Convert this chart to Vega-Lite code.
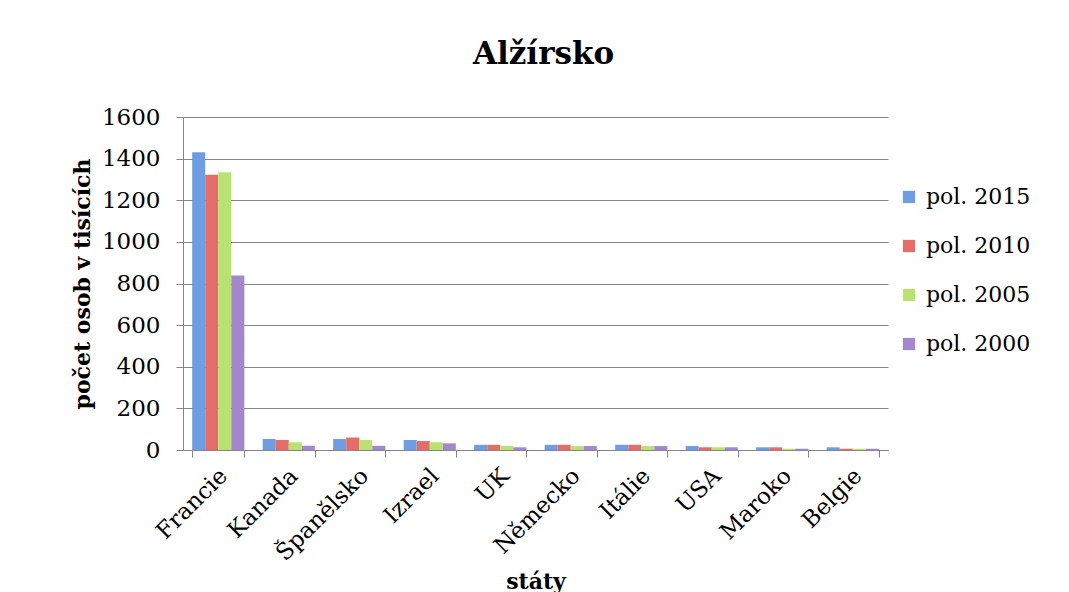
{
  "$schema": "https://vega.github.io/schema/vega-lite/v6.json",
  "width": 705,
  "height": 333,
  "autosize": {"type": "none"},
  "padding": {"left": 183, "top": 117, "right": 181, "bottom": 142},
  "background": "white",
  "title": {
    "text": "Alžírsko",
    "font": "DejaVu Serif",
    "fontSize": 31,
    "fontWeight": "bold",
    "color": "black",
    "anchor": "middle",
    "dx": 8,
    "offset": 35
  },
  "config": {
    "view": {"stroke": null},
    "font": "DejaVu Serif"
  },
  "data": {
    "values": [
      {"stat": "Francie", "rok": "pol. 2015", "pocet": 1431},
      {"stat": "Francie", "rok": "pol. 2010", "pocet": 1322},
      {"stat": "Francie", "rok": "pol. 2005", "pocet": 1335},
      {"stat": "Francie", "rok": "pol. 2000", "pocet": 838},
      {"stat": "Kanada", "rok": "pol. 2015", "pocet": 53},
      {"stat": "Kanada", "rok": "pol. 2010", "pocet": 48},
      {"stat": "Kanada", "rok": "pol. 2005", "pocet": 37},
      {"stat": "Kanada", "rok": "pol. 2000", "pocet": 21},
      {"stat": "Španělsko", "rok": "pol. 2015", "pocet": 53},
      {"stat": "Španělsko", "rok": "pol. 2010", "pocet": 60},
      {"stat": "Španělsko", "rok": "pol. 2005", "pocet": 48},
      {"stat": "Španělsko", "rok": "pol. 2000", "pocet": 20},
      {"stat": "Izrael", "rok": "pol. 2015", "pocet": 48},
      {"stat": "Izrael", "rok": "pol. 2010", "pocet": 43},
      {"stat": "Izrael", "rok": "pol. 2005", "pocet": 37},
      {"stat": "Izrael", "rok": "pol. 2000", "pocet": 32},
      {"stat": "UK", "rok": "pol. 2015", "pocet": 25},
      {"stat": "UK", "rok": "pol. 2010", "pocet": 25},
      {"stat": "UK", "rok": "pol. 2005", "pocet": 20},
      {"stat": "UK", "rok": "pol. 2000", "pocet": 13},
      {"stat": "Německo", "rok": "pol. 2015", "pocet": 25},
      {"stat": "Německo", "rok": "pol. 2010", "pocet": 25},
      {"stat": "Německo", "rok": "pol. 2005", "pocet": 19},
      {"stat": "Německo", "rok": "pol. 2000", "pocet": 19},
      {"stat": "Itálie", "rok": "pol. 2015", "pocet": 25},
      {"stat": "Itálie", "rok": "pol. 2010", "pocet": 25},
      {"stat": "Itálie", "rok": "pol. 2005", "pocet": 19},
      {"stat": "Itálie", "rok": "pol. 2000", "pocet": 19},
      {"stat": "USA", "rok": "pol. 2015", "pocet": 19},
      {"stat": "USA", "rok": "pol. 2010", "pocet": 13},
      {"stat": "USA", "rok": "pol. 2005", "pocet": 13},
      {"stat": "USA", "rok": "pol. 2000", "pocet": 13},
      {"stat": "Maroko", "rok": "pol. 2015", "pocet": 13},
      {"stat": "Maroko", "rok": "pol. 2010", "pocet": 13},
      {"stat": "Maroko", "rok": "pol. 2005", "pocet": 6},
      {"stat": "Maroko", "rok": "pol. 2000", "pocet": 6},
      {"stat": "Belgie", "rok": "pol. 2015", "pocet": 13},
      {"stat": "Belgie", "rok": "pol. 2010", "pocet": 6},
      {"stat": "Belgie", "rok": "pol. 2005", "pocet": 6},
      {"stat": "Belgie", "rok": "pol. 2000", "pocet": 6}
    ]
  },
  "mark": {"type": "bar"},
  "encoding": {
    "x": {
      "field": "stat",
      "type": "nominal",
      "sort": null,
      "scale": {"paddingInner": 0.26, "paddingOuter": 0.13},
      "axis": {
        "title": "státy",
        "titleFont": "DejaVu Serif",
        "titleFontSize": 22,
        "titleFontWeight": "bold",
        "titleColor": "black",
        "titlePadding": 6,
        "labelAngle": -45,
        "labelAlign": "right",
        "labelBaseline": "middle",
        "labelFont": "DejaVu Serif",
        "labelFontSize": 23,
        "labelColor": "black",
        "labelPadding": 15,
        "labelOffset": 5,
        "tickBand": "extent",
        "tickSize": 7,
        "tickColor": "#868686",
        "domainColor": "#868686",
        "grid": false
      }
    },
    "xOffset": {"field": "rok", "type": "nominal", "sort": ["pol. 2015", "pol. 2010", "pol. 2005", "pol. 2000"]},
    "y": {
      "field": "pocet",
      "type": "quantitative",
      "scale": {"domain": [0, 1600], "nice": false},
      "axis": {
        "title": "počet osob v tisících",
        "titleFont": "DejaVu Serif",
        "titleFontSize": 22,
        "titleFontWeight": "bold",
        "titleColor": "black",
        "titlePadding": 7,
        "format": "d",
        "values": [0, 200, 400, 600, 800, 1000, 1200, 1400, 1600],
        "labelFont": "DejaVu Serif",
        "labelFontSize": 23,
        "labelColor": "black",
        "labelPadding": 16,
        "tickSize": 7,
        "tickColor": "#868686",
        "domainColor": "#868686",
        "gridColor": "#868686",
        "gridWidth": 1
      }
    },
    "color": {
      "field": "rok",
      "type": "nominal",
      "sort": ["pol. 2015", "pol. 2010", "pol. 2005", "pol. 2000"],
      "scale": {
        "domain": ["pol. 2015", "pol. 2010", "pol. 2005", "pol. 2000"],
        "range": ["#6e9de4", "#e46c69", "#bae273", "#a487ce"]
      },
      "legend": {
        "title": null,
        "orient": "none",
        "legendX": 715,
        "legendY": 69,
        "symbolType": "square",
        "symbolSize": 150,
        "symbolStrokeWidth": 0,
        "labelFont": "DejaVu Serif",
        "labelFontSize": 22,
        "labelColor": "black",
        "rowPadding": 27,
        "labelOffset": 6
      }
    }
  }
}
